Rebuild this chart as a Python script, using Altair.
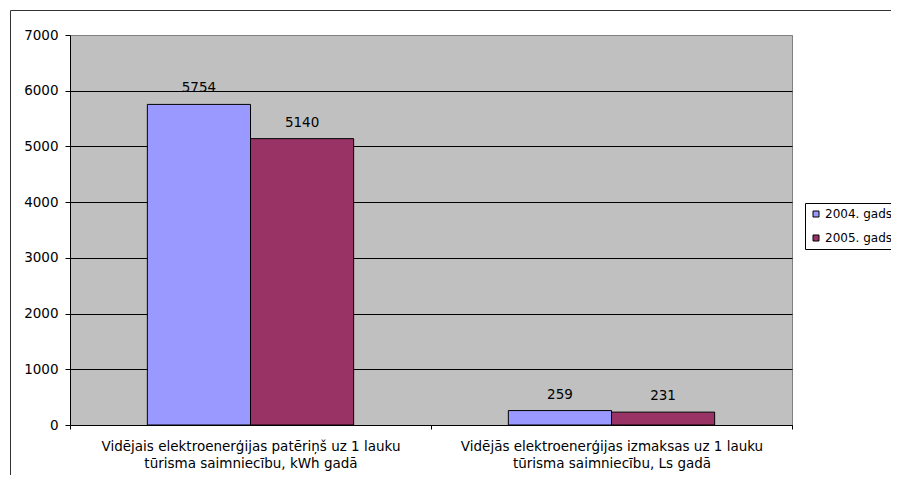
import altair as alt
import pandas as pd

categories = [
    "Vidējais elektroenerģijas patēriņš uz 1 lauku\ntūrisma saimniecību, kWh gadā",
    "Vidējās elektroenerģijas izmaksas uz 1 lauku\ntūrisma saimniecību, Ls gadā",
]
years = ["2004. gads", "2005. gads"]
values_2004 = [5754, 259]
values_2005 = [5140, 231]
colors = ["#9999FF", "#993366"]
y_ticks = [0, 1000, 2000, 3000, 4000, 5000, 6000, 7000]

rows = []
for i, c in enumerate(categories):
    rows.append({"category": c, "year": years[0], "value": values_2004[i]})
    rows.append({"category": c, "year": years[1], "value": values_2005[i]})
df = pd.DataFrame(rows)

FONT = "DejaVu Sans"
FS = 13.5

x_enc = alt.X(
    "category:N", sort=categories, title=None,
    scale=alt.Scale(paddingInner=0, paddingOuter=0),
    axis=alt.Axis(labelAngle=0, labelExpr="split(datum.label, '\\n')",
                  tickBand="extent", tickSize=4, labelPadding=10,
                  labelLimit=0, labelLineHeight=17, labelBaseline="top",
                  domainColor="black", tickColor="black", grid=False),
)
xo_enc = alt.XOffset("year:N", sort=years,
                     scale=alt.Scale(paddingInner=0, paddingOuter=0.75))
y_enc = alt.Y(
    "value:Q", title=None,
    scale=alt.Scale(domain=[0, 7000], nice=False),
    axis=alt.Axis(values=y_ticks, format="d", grid=True, tickSize=5, labelPadding=7,
                  domainColor="black", tickColor="black",
                  gridColor=alt.condition("datum.value >= 7000", alt.value("#808080"), alt.value("black"))),
)

frame = alt.Chart(pd.DataFrame({"a": [0]})).mark_rect(
    filled=False, stroke="#333333", strokeWidth=1
).encode(
    x=alt.value(-59.5), x2=alt.value(900), y=alt.value(-24.5), y2=alt.value(500)
)

bars = alt.Chart(df).mark_bar(stroke="black", strokeWidth=1).encode(
    x=x_enc, xOffset=xo_enc, y=y_enc,
    color=alt.Color("year:N", sort=years,
                    scale=alt.Scale(domain=years, range=colors),
                    legend=alt.Legend(title=None, orient="none", legendX=735, legendY=168,
                                      symbolType="square", symbolSize=36,
                                      symbolStrokeColor="black", symbolStrokeWidth=1,
                                      labelFont=FONT, labelFontSize=12, labelColor="black",
                                      labelOffset=3, rowPadding=12, padding=5,
                                      strokeColor="black", fillColor="white")),
)

labels = alt.Chart(df).mark_text(
    baseline="alphabetic", dy=-12, font=FONT, fontSize=FS, color="black"
).encode(
    x=alt.X("category:N", sort=categories), xOffset=xo_enc, y="value:Q",
    text=alt.Text("value:Q", format="d"),
)

chart = alt.layer(frame, bars, labels).properties(
    width=722, height=390,
    autosize=alt.AutoSizeParams(type="none"),
    padding={"left": 62, "top": 27, "right": 99, "bottom": 50},
    background="white",
).configure_view(
    fill="#C0C0C0", stroke="#808080", strokeWidth=1
).configure_axis(
    labelFont=FONT, labelFontSize=FS, labelColor="black", domainWidth=1
)

chart.save("out.html", embed_options={"renderer": "svg", "actions": False})
